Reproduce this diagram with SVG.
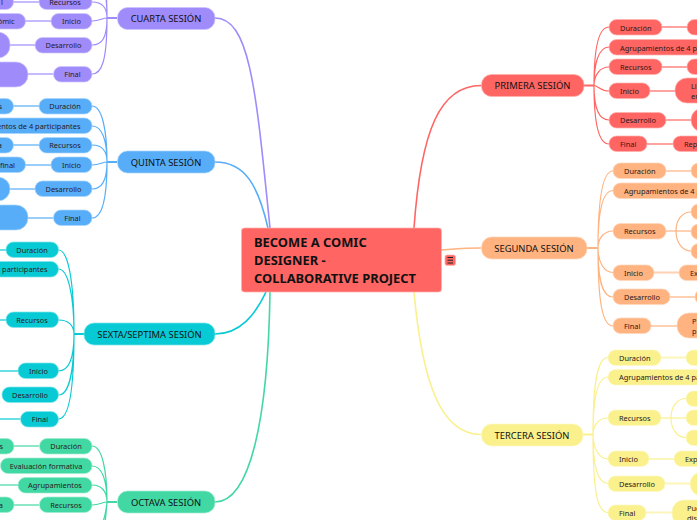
<svg xmlns="http://www.w3.org/2000/svg" width="697" height="520" viewBox="0 0 697 520">
<style>
text{font-family:"Noto Sans","Open Sans",sans-serif;font-size:7.4px;fill:#2a1a1a}
.s{font-size:9.400px;fill:#111;text-anchor:middle}
.e{text-anchor:end}
.m{text-anchor:middle}
.c{font-size:12.900px;font-weight:700;fill:#111}
.con path{fill:none}
.f{stroke-width:1.2}
.t{stroke-width:2}
.g{stroke-width:2;stroke-opacity:.6}
.red rect,.red path{fill:#ff6663;stroke:#ffb0ae;stroke-width:.7}
.ora rect{fill:#ffb380;stroke:#ffd6ba;stroke-width:.7}
.yel rect{fill:#faf08c;stroke:#fdf8c6;stroke-width:.7}
.pur rect{fill:#a08bfb;stroke:#cfc4fd;stroke-width:.7}
.blu rect{fill:#57adf7;stroke:#a9d6fb;stroke-width:.7}
.tea rect{fill:#08cad5;stroke:#80e5ea;stroke-width:.7}
.grn rect{fill:#42d8a4;stroke:#a0ecd1;stroke-width:.7}
.lr{stroke:#ff6663}.lo{stroke:#ffb380}.ly{stroke:#faf08c}.lp{stroke:#a08bfb}.lb{stroke:#57adf7}.lt{stroke:#08cad5}.lg{stroke:#42d8a4}
</style>
<g id="connectors" class="con">
<path class="lp" stroke-width="1.6" d="M215 18C250 18 256 90 270 228"/>
<path class="lb" stroke-width="1.6" d="M215 162C245 162 258 185 268 228"/>
<path class="lt" stroke-width="1.6" d="M215 334C240 334 255 315 266 292"/>
<path class="lg" stroke-width="1.6" d="M215 502C250 502 268 420 270 292"/>
<path class="lr" stroke-width="1.6" d="M481 85.500C440 85.500 421 130 414 228"/>
<path class="lo" stroke-width="1.6" d="M481 248C465 248 455 249 441 250"/>
<path class="ly" stroke-width="1.6" d="M481 434.500C440 434.500 422 380 414 292"/>

<g class="lp">
<path class="t" d="M107 18H117"/>
<path class="f" d="M92 -45C102 -45 107 -20 107 18M92 -25C102 -25 107 -10 107 18M92 2C102 2 107 8 107 18M92 21C100 21 102 18 107 18M92 45C102 45 107 38 107 18M92 74C102 74 107 60 107 18"/>
<path class="g" d="M13 2H39M25 21H51M10 45H35M28 74H53"/>
</g>
<g class="lb">
<path class="t" d="M107 162H117"/>
<path class="f" d="M92 106C102 106 107 130 107 162M92 126C102 126 107 140 107 162M92 145C102 145 107 150 107 162M92 165C100 165 102 162 107 162M92 189C102 189 107 180 107 162M92 218C102 218 107 200 107 162"/>
<path class="g" d="M13 106H39M13 145H39M25 165H51M10 189H35M28 218H53"/>
</g>
<g class="lt">
<path class="t" d="M74 334H84"/>
<path class="f" d="M58.500 250C68 250 74 280 74 334M58.500 269C68 269 74 295 74 334M58.500 320C68 320 74 325 74 334M58.500 371C68 371 74 360 74 334M58.500 395C68 395 74 375 74 334M58.500 419C68 419 74 395 74 334"/>
<path class="g" d="M0 250H6M0 320H6M0 371H18M0 419H20"/>
</g>
<g class="lg">
<path class="t" d="M107 502H117"/>
<path class="f" d="M92 446C102 446 107 470 107 502M92 466C102 466 107 480 107 502M92 485C102 485 107 492 107 502M92 505C100 505 102 502 107 502M92 530C102 530 105 520 107 502M92 550C102 550 105 530 107 502"/>
<path class="g" d="M14 446H39M0 485H18M14 505H39"/>
</g>
<g class="lr">
<path class="t" d="M584 85.500H594"/>
<path class="f" d="M609 27C598 27 594 50 594 85.500M609 47C598 47 594 65 594 85.500M609 67C600 67 594 75 594 85.500M609 91C600 91 598 85.500 594 85.500M609 120C598 120 594 105 594 85.500M609 144C598 144 594 120 594 85.500"/>
<path class="g" d="M662 27H687M662 67H687M650 91H675M666 120H691M647 144H673"/>
</g>
<g class="lo">
<path class="t" d="M587 248H598"/>
<path class="f" d="M613 171C602 171 598 200 598 248M613 190.500C602 190.500 598 215 598 248M613 231C604 231 598 238 598 248M613 272.500C604 272.500 598 262 598 248M613 297C602 297 598 280 598 248M613 326C602 326 598 300 598 248"/>
<path class="g" d="M666 171H691M654 272.500H679M670 297H695M651 326H677M666 231H691"/>
<path class="f" d="M691 212C682 212 676 220 676 231C676 242 682 251 691 251"/>
</g>
<g class="ly">
<path class="t" d="M583 434.500H593"/>
<path class="f" d="M608 357.500C597 357.500 593 385 593 434.500M608 377C597 377 593 400 593 434.500M608 418C599 418 593 425 593 434.500M608 459C599 459 593 448 593 434.500M608 483.500C597 483.500 593 465 593 434.500M608 512.500C597 512.500 593 490 593 434.500"/>
<path class="g" d="M661 357.500H686M661 418H686M649 459H674M665 483.500H690M646 512.500H672"/>
<path class="f" d="M686 398.500C677 398.500 671 407 671 418C671 429 677 437.500 686 437.500"/>
</g>
</g>

<g id="center" class="red"><rect x="241.500" y="228" width="200" height="64" rx="3"/><text class="c" x="254" y="247">BECOME A COMIC</text><text class="c" x="254" y="265">DESIGNER -</text><text class="c" x="254" y="283">COLLABORATIVE PROJECT</text></g>
<g id="toggle" class="red"><rect x="445" y="255" width="10.500" height="10.500" rx="2"/><path d="M447.500 257.500h5.500M447.500 260.200h5.500M447.500 263h5.500" style="stroke:#222;stroke-width:1;fill:none"/></g>

<g id="cuarta" class="pur"><rect x="117.500" y="7.500" width="97.500" height="22" rx="10"/><text class="s" x="166" y="22">CUARTA SESIÓN</text></g>
<g id="c-recursos" class="pur"><rect x="39" y="-6" width="53" height="15.500" rx="7.500"/><text class="m" x="65" y="5">Recursos</text></g>
<g id="c-inicio" class="pur"><rect x="51" y="13.500" width="41" height="15.500" rx="7.500"/><text class="m" x="71.500" y="24">Inicio</text></g>
<g id="c-desarrollo" class="pur"><rect x="35" y="37.500" width="57" height="15.500" rx="7.500"/><text class="m" x="63.500" y="48">Desarrollo</text></g>
<g id="c-final" class="pur"><rect x="53.500" y="66.500" width="38.500" height="15.500" rx="7.500"/><text class="m" x="72.500" y="77">Final</text></g>
<g id="c-recursos-d" class="pur"><rect x="-40" y="-6" width="53.500" height="15.500" rx="7.500"/><text class="e" x="3" y="5">l</text></g>
<g id="c-inicio-d" class="pur"><rect x="-60" y="13.500" width="85.500" height="15.500" rx="7.500"/><text class="e" x="14.500" y="24">ómic</text></g>
<g id="c-desarrollo-d" class="pur"><rect x="-60" y="32" width="70" height="26" rx="12"/></g>
<g id="c-final-d" class="pur"><rect x="-60" y="62" width="88" height="25" rx="12"/></g>

<g id="quinta" class="blu"><rect x="117.500" y="151" width="97.500" height="22" rx="10"/><text class="s" x="166" y="165.500">QUINTA SESIÓN</text></g>
<g id="q-duracion" class="blu"><rect x="39" y="98.500" width="53" height="15.500" rx="7.500"/><text class="m" x="65" y="109">Duración</text></g>
<g id="q-agrup" class="blu"><rect x="-80" y="118" width="172" height="15.500" rx="7.500"/><text class="e" x="80.500" y="129">Agrupamientos de 4 participantes</text></g>
<g id="q-recursos" class="blu"><rect x="39" y="137.500" width="53" height="15.500" rx="7.500"/><text class="m" x="65" y="148">Recursos</text></g>
<g id="q-inicio" class="blu"><rect x="51" y="157" width="41" height="15.500" rx="7.500"/><text class="m" x="71.500" y="168">Inicio</text></g>
<g id="q-desarrollo" class="blu"><rect x="35" y="181" width="57" height="15.500" rx="7.500"/><text class="m" x="63.500" y="192">Desarrollo</text></g>
<g id="q-final" class="blu"><rect x="53.500" y="210" width="38.500" height="15.500" rx="7.500"/><text class="m" x="72.500" y="221">Final</text></g>
<g id="q-duracion-d" class="blu"><rect x="-40" y="98.500" width="53.500" height="15.500" rx="7.500"/><text class="e" x="2" y="109">s</text></g>
<g id="q-recursos-d" class="blu"><rect x="-40" y="137.500" width="53.500" height="15.500" rx="7.500"/><text class="e" x="2" y="148">a</text></g>
<g id="q-inicio-d" class="blu"><rect x="-60" y="157" width="85.500" height="15.500" rx="7.500"/><text class="e" x="15" y="168">final</text></g>
<g id="q-desarrollo-d" class="blu"><rect x="-60" y="177" width="70" height="24" rx="12"/></g>
<g id="q-final-d" class="blu"><rect x="-60" y="205" width="88" height="25" rx="12"/></g>

<g id="sexta" class="tea"><rect x="84" y="323" width="131" height="22" rx="10"/><text class="s" x="149.500" y="337.500">SEXTA/SEPTIMA SESIÓN</text></g>
<g id="s-duracion" class="tea"><rect x="6" y="242" width="52.500" height="15.500" rx="7.500"/><text class="m" x="32" y="253">Duración</text></g>
<g id="s-agrup" class="tea"><rect x="-120" y="261.500" width="178.500" height="15.500" rx="7.500"/><text class="e" x="47.500" y="272">Agrupamientos de 4 participantes</text></g>
<g id="s-recursos" class="tea"><rect x="6" y="312" width="52.500" height="15.500" rx="7.500"/><text class="m" x="32" y="323">Recursos</text></g>
<g id="s-inicio" class="tea"><rect x="18" y="363" width="40.500" height="15.500" rx="7.500"/><text class="m" x="38.500" y="374">Inicio</text></g>
<g id="s-desarrollo" class="tea"><rect x="2" y="387" width="56.500" height="15.500" rx="7.500"/><text class="m" x="30" y="398">Desarrollo</text></g>
<g id="s-final" class="tea"><rect x="20.500" y="411.500" width="38" height="15.500" rx="7.500"/><text class="m" x="40" y="422">Final</text></g>

<g id="octava" class="grn"><rect x="117.500" y="491" width="97.500" height="22" rx="10"/><text class="s" x="166" y="505.500">OCTAVA SESIÓN</text></g>
<g id="o-duracion" class="grn"><rect x="39.500" y="438.500" width="52.500" height="15.500" rx="7.500"/><text class="m" x="66" y="449">Duración</text></g>
<g id="o-eval" class="grn"><rect x="0.500" y="458" width="91.500" height="15.500" rx="7.500"/><text class="m" x="46" y="469">Evaluación formativa</text></g>
<g id="o-agrup" class="grn"><rect x="18" y="477.500" width="74" height="15.500" rx="7.500"/><text class="m" x="55" y="488">Agrupamientos</text></g>
<g id="o-recursos" class="grn"><rect x="39.500" y="497" width="52.500" height="15.500" rx="7.500"/><text class="m" x="66" y="508">Recursos</text></g>
<g id="o-duracion-d" class="grn"><rect x="-40" y="438.500" width="54" height="15.500" rx="7.500"/><text class="e" x="3" y="449">s</text></g>
<g id="o-recursos-d" class="grn"><rect x="-40" y="497" width="54" height="15.500" rx="7.500"/><text class="e" x="3" y="508">a</text></g>

<g id="primera" class="red"><rect x="481.500" y="74.500" width="102.500" height="22" rx="10"/><text class="s" x="532.500" y="89">PRIMERA SESIÓN</text></g>
<g id="p-duracion" class="red"><rect x="609" y="19.500" width="53" height="15.500" rx="7.500"/><text x="620" y="30.500">Duración</text></g>
<g id="p-agrup" class="red"><rect x="609" y="39.500" width="170" height="15.500" rx="7.500"/><text x="620" y="50.500">Agrupamientos de 4 participantes</text></g>
<g id="p-recursos" class="red"><rect x="609" y="59" width="53" height="15.500" rx="7.500"/><text x="620" y="69.500">Recursos</text></g>
<g id="p-inicio" class="red"><rect x="609" y="83" width="41" height="15.500" rx="7.500"/><text x="620" y="94">Inicio</text></g>
<g id="p-desarrollo" class="red"><rect x="609" y="112.500" width="57" height="15.500" rx="7.500"/><text x="620" y="123">Desarrollo</text></g>
<g id="p-final" class="red"><rect x="609" y="136" width="38" height="15.500" rx="7.500"/><text x="620" y="147">Final</text></g>
<g id="p-duracion-d" class="red"><rect x="687" y="19.500" width="60" height="15.500" rx="7.500"/></g>
<g id="p-recursos-d" class="red"><rect x="687" y="59" width="60" height="15.500" rx="7.500"/></g>
<g id="p-inicio-d" class="red"><rect x="675" y="78" width="70" height="25" rx="12"/><text x="691" y="89">Lle</text><text x="691" y="99">en</text></g>
<g id="p-desarrollo-d" class="red"><rect x="691" y="108" width="60" height="24" rx="12"/></g>
<g id="p-final-d" class="red"><rect x="673" y="136" width="70" height="15.500" rx="7.500"/><text x="684" y="147">Rep</text></g>

<g id="segunda" class="ora"><rect x="481.500" y="237" width="105.500" height="22" rx="10"/><text class="s" x="534" y="251.500">SEGUNDA SESIÓN</text></g>
<g id="g-duracion" class="ora"><rect x="613" y="163" width="53" height="15.500" rx="7.500"/><text x="624" y="174">Duración</text></g>
<g id="g-agrup" class="ora"><rect x="613" y="183" width="170" height="15.500" rx="7.500"/><text x="624" y="193.500">Agrupamientos de 4 participantes</text></g>
<g id="g-recursos" class="ora"><rect x="613" y="223.500" width="53" height="15.500" rx="7.500"/><text x="624" y="234">Recursos</text></g>
<g id="g-inicio" class="ora"><rect x="613" y="265" width="41" height="15.500" rx="7.500"/><text x="624" y="275.500">Inicio</text></g>
<g id="g-desarrollo" class="ora"><rect x="613" y="289" width="57" height="15.500" rx="7.500"/><text x="624" y="300">Desarrollo</text></g>
<g id="g-final" class="ora"><rect x="613" y="318" width="38" height="15.500" rx="7.500"/><text x="624" y="329">Final</text></g>
<g id="g-duracion-d" class="ora"><rect x="691" y="163" width="50" height="15.500" rx="7.500"/></g>
<g id="g-rec1" class="ora"><rect x="691" y="204" width="50" height="15.500" rx="7.500"/></g>
<g id="g-rec2" class="ora"><rect x="691" y="224" width="50" height="15.500" rx="7.500"/></g>
<g id="g-rec3" class="ora"><rect x="691" y="243.500" width="50" height="15.500" rx="7.500"/></g>
<g id="g-inicio-d" class="ora"><rect x="679" y="265" width="60" height="15.500" rx="7.500"/><text x="690" y="275.500">Ex</text></g>
<g id="g-desarrollo-d" class="ora"><rect x="695" y="289" width="50" height="15.500" rx="7.500"/></g>
<g id="g-final-d" class="ora"><rect x="677" y="313" width="60" height="25" rx="12"/><text x="692" y="324">P</text><text x="692" y="334">p</text></g>

<g id="tercera" class="yel"><rect x="481.500" y="424" width="101.500" height="22" rx="10"/><text class="s" x="532" y="438.500">TERCERA SESIÓN</text></g>
<g id="t-duracion" class="yel"><rect x="608" y="350" width="53" height="15.500" rx="7.500"/><text x="619" y="360.500">Duración</text></g>
<g id="t-agrup" class="yel"><rect x="608" y="369.500" width="170" height="15.500" rx="7.500"/><text x="619" y="380">Agrupamientos de 4 participantes</text></g>
<g id="t-recursos" class="yel"><rect x="608" y="410" width="53" height="15.500" rx="7.500"/><text x="619" y="421">Recursos</text></g>
<g id="t-inicio" class="yel"><rect x="608" y="451" width="41" height="15.500" rx="7.500"/><text x="619" y="462">Inicio</text></g>
<g id="t-desarrollo" class="yel"><rect x="608" y="476" width="57" height="15.500" rx="7.500"/><text x="619" y="486.500">Desarrollo</text></g>
<g id="t-final" class="yel"><rect x="608" y="505" width="38" height="15.500" rx="7.500"/><text x="619" y="515.500">Final</text></g>
<g id="t-duracion-d" class="yel"><rect x="686" y="350" width="50" height="15.500" rx="7.500"/></g>
<g id="t-rec1" class="yel"><rect x="686" y="391" width="50" height="15.500" rx="7.500"/></g>
<g id="t-rec2" class="yel"><rect x="686" y="410" width="50" height="15.500" rx="7.500"/></g>
<g id="t-rec3" class="yel"><rect x="686" y="430" width="50" height="15.500" rx="7.500"/></g>
<g id="t-inicio-d" class="yel"><rect x="674" y="451" width="60" height="15.500" rx="7.500"/><text x="685" y="462">Exp</text></g>
<g id="t-desarrollo-d" class="yel"><rect x="690" y="472" width="50" height="24" rx="12"/></g>
<g id="t-final-d" class="yel"><rect x="672" y="500" width="60" height="26" rx="12"/><text x="687" y="511">Pue</text><text x="687" y="521">dis</text></g>
</svg>
